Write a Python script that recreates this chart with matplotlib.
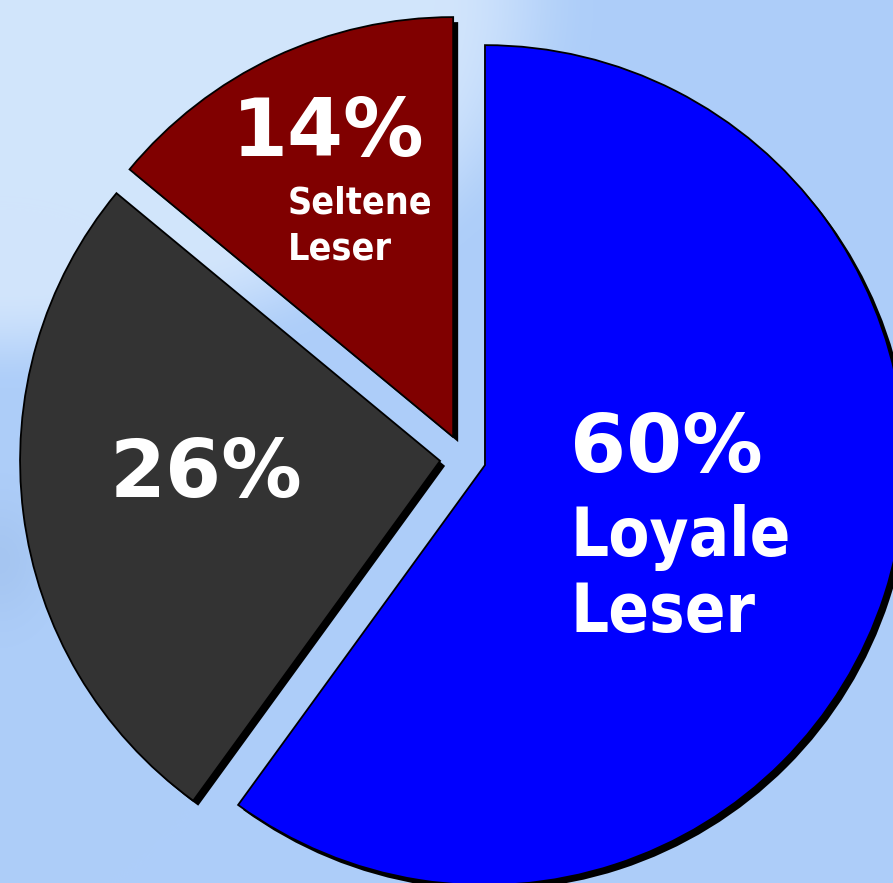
import numpy as np
import matplotlib
matplotlib.use("Agg")
import matplotlib.pyplot as plt
import matplotlib.patheffects as pe

# ---- data ----
categories = ["Loyale Leser", "Gelegentliche Leser", "Seltene Leser"]
shares = [60, 26, 14]
pct_labels = ["60%", "26%", "14%"]
colors = ["#0000FF", "#333333", "#800000"]

W, H = 893, 883
fig = plt.figure(figsize=(W / 100, H / 100), dpi=100)
ax = fig.add_axes([0, 0, 1, 1])

# pie geometry (pixel based)
R = 420.0
cx, cy = 463.0, 458.0
ext = (-cx / R, (W - cx) / R, -(H - cy) / R, cy / R)

# ---- background gradient ----
yy, xx = np.mgrid[0:H, 0:W].astype(float)
light = np.array([210, 229, 252]) / 255.0
base = np.array([174, 206, 249]) / 255.0
dark = np.array([160, 192, 236]) / 255.0
d = (xx / 520.0) ** 2 + (yy / 340.0) ** 2
w = np.clip((d - 0.7) / 0.6, 0, 1)
w = w * w * (3 - 2 * w)
img = light[None, None, :] * (1 - w[..., None]) + base[None, None, :] * w[..., None]
cloud = np.exp(-((xx - 0) / 45.0) ** 2 - ((yy - 560) / 60.0) ** 2) * 0.6
img = img * (1 - cloud[..., None]) + dark[None, None, :] * cloud[..., None]
ax.imshow(img, extent=ext, origin="upper", aspect="auto", zorder=0)

wedges, _ = ax.pie(
    shares, colors=colors, startangle=90, counterclock=False,
    radius=1.0, center=(0, 0), explode=[0.055] * 3,
    wedgeprops=dict(edgecolor="black", linewidth=1.3),
    frame=True,
)
for wdg in wedges:
    wdg.set_zorder(2)
    wdg.set_path_effects([
        pe.SimplePatchShadow(offset=(3.6, -3.6), shadow_rgbFace="black", alpha=1.0),
        pe.Normal(),
    ])

ax.set_xlim(ext[0], ext[1])
ax.set_ylim(ext[2], ext[3])
ax.set_aspect("auto")
ax.set_axis_off()

def fx(x):
    return x / W

def fy(y):
    return 1 - y / H

font = dict(family="DejaVu Sans", weight="bold", color="white")
wfont = dict(family="DejaVu Sans", weight="bold", stretch="condensed", color="white")

# percentages
fig.text(fx(666), fy(472), pct_labels[0], ha="center", va="baseline", fontsize=58, **font)
fig.text(fx(206), fy(497), pct_labels[1], ha="center", va="baseline", fontsize=58, **font)
fig.text(fx(328.5), fy(156), pct_labels[2], ha="center", va="baseline", fontsize=58, **font)

# category names
loy1, loy2 = categories[0].split(" ")
fig.text(fx(571), fy(556), loy1, ha="left", va="baseline", fontsize=48, **wfont)
fig.text(fx(571), fy(632), loy2, ha="left", va="baseline", fontsize=48, **wfont)
sel1, sel2 = categories[2].split(" ")
fig.text(fx(288), fy(213), sel1, ha="left", va="baseline", fontsize=27, **wfont)
fig.text(fx(288), fy(260), sel2, ha="left", va="baseline", fontsize=27, **wfont)

fig.savefig("out.png", dpi=100)
